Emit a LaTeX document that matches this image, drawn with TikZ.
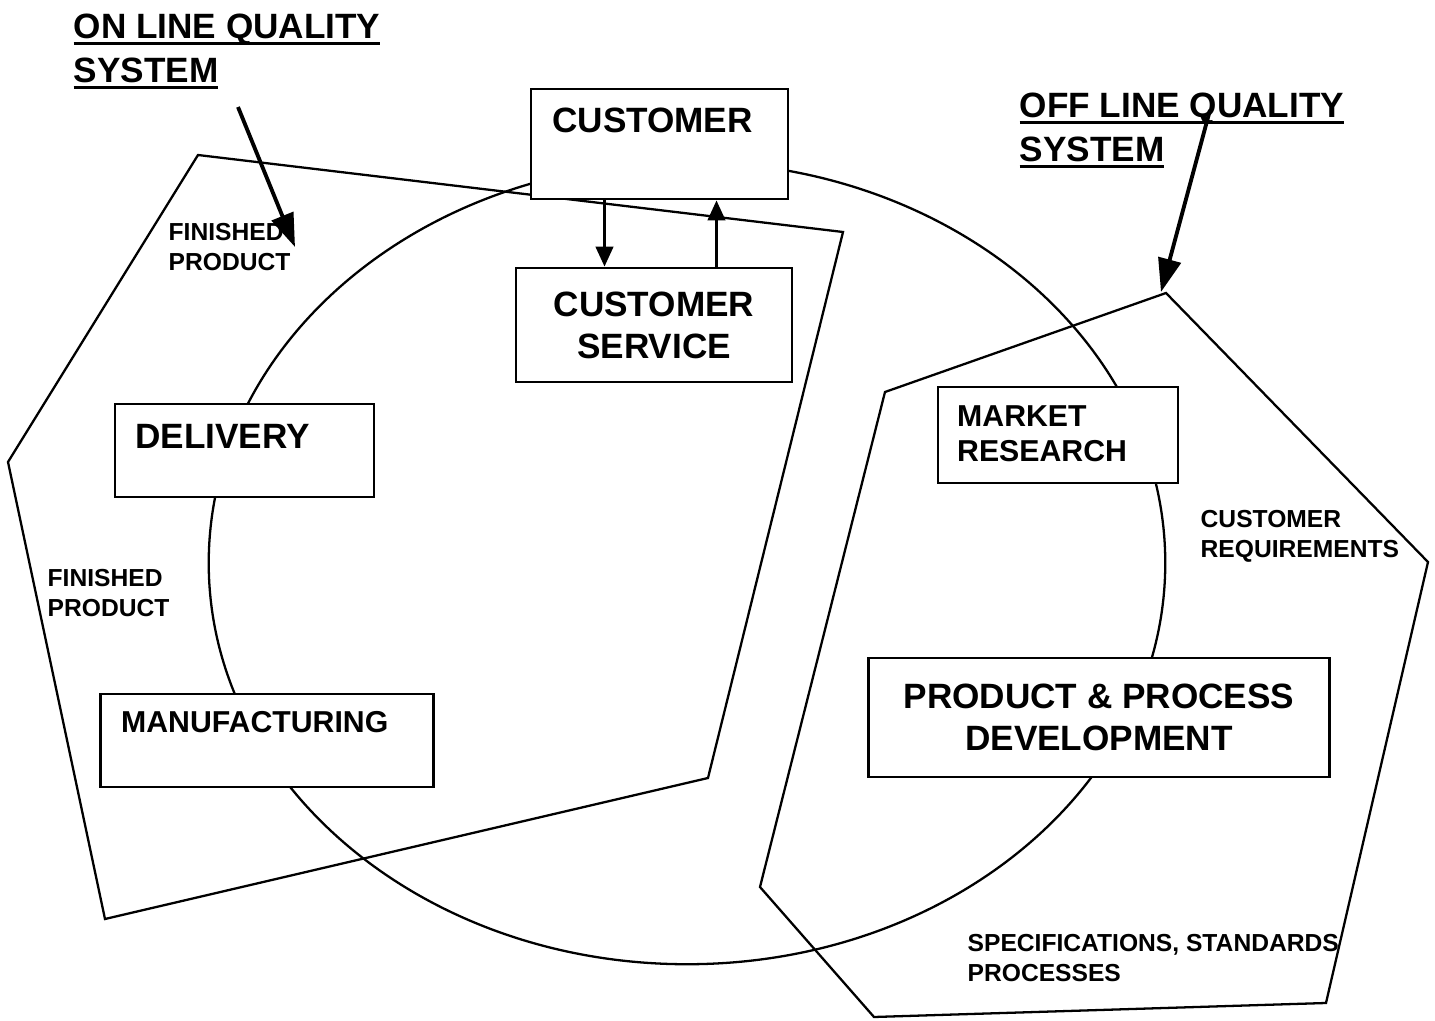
\documentclass[tikz,border=0pt]{standalone}
\usepackage{fontspec}
\setmainfont{Liberation Sans}
\usetikzlibrary{calc,positioning,arrows.meta}

% heading text with a heavy underline
\newsavebox{\ulheadbox}
\newcommand{\ulhead}[1]{\leavevmode\sbox{\ulheadbox}{#1}\dp\ulheadbox=0pt%
	\vtop{\copy\ulheadbox\kern1.1pt\hrule height 0.9pt}}

\begin{document}
\begin{tikzpicture}[x=0.01cm, y=-0.01cm,
		stage/.style={draw, fill=white, line width=0.8pt, inner sep=0pt, align=center,
			font=\bfseries\fontsize{10}{12}\selectfont},
		bigtext/.style={font=\bfseries\fontsize{10}{12.5}\selectfont, inner sep=0pt, align=left},
		midtext/.style={font=\bfseries\fontsize{8.6}{10}\selectfont, inner sep=0pt, align=left},
		smalltext/.style={font=\bfseries\fontsize{7}{8.5}\selectfont, inner sep=0pt, align=left},
		ring/.style={line width=0.65pt},
		flow/.style={line width=0.8pt, -{Triangle[length=5.7pt, width=5pt]}},
		pointer/.style={line width=1.1pt, -{Triangle[length=9.5pt, width=6.5pt]}}]
	\useasboundingbox (0,0) rectangle (1435,1021);

	% quality loop
	\draw[ring] (687,563) ellipse [x radius=4.78cm, y radius=4.01cm];

	% on line / off line systems
	\draw[ring] (198,155) -- (843,232) -- (708,778) -- (105,919) -- (8,462) -- cycle;
	\draw[ring] (1166,293) -- (1428,562) -- (1326,1003) -- (874,1017) -- (760,887) -- (885,392) -- cycle;

	\node[stage, minimum width=2.57cm, minimum height=1.10cm] (customer) at (659.5,144) {};
	\node[stage, minimum width=2.76cm, minimum height=1.14cm] (service) at (654,325) {CUSTOMER\\SERVICE};
	\node[stage, minimum width=2.59cm, minimum height=0.93cm] (delivery) at (244.5,450.5) {};
	\node[stage, minimum width=3.32cm, minimum height=0.93cm] (manufacturing) at (267,740.5) {};
	\node[stage, minimum width=2.40cm, minimum height=0.96cm] (research) at (1058,435) {};
	\node[stage, minimum width=4.60cm, minimum height=1.19cm] (development) at (1099,717.5) {PRODUCT \& PROCESS\\DEVELOPMENT};

	\node[bigtext, anchor=north west] (customer-name) at ($(customer.north west)+(22,20)$) {CUSTOMER};
	\node[bigtext, anchor=north west] (delivery-name) at ($(delivery.north west)+(21,21)$) {DELIVERY};
	\node[midtext, anchor=north west] (manufacturing-name) at ($(manufacturing.north west)+(21,18)$) {MANUFACTURING};
	\node[midtext, anchor=north west] (research-name) at ($(research.north west)+(20,19)$) {MARKET\\RESEARCH};

	\path (customer.south) ++(-55,0) coordinate (order);
	\path (customer.south) ++(57,0) coordinate (feedback);
	\draw[flow] (order) -- (order |- service.north);
	\draw[flow] (feedback |- service.north) -- (feedback);

	\node[bigtext, anchor=north west] (online) at (73,13) {\ulhead{ON LINE QUALITY}\\\ulhead{SYSTEM}};
	\node[bigtext, anchor=north west] (offline) at (1019,92) {\ulhead{OFF LINE QUALITY}\\\ulhead{SYSTEM}};

	\node[smalltext, anchor=north west] (finished-top) at (168,223) {FINISHED\\PRODUCT};
	\node[smalltext, anchor=north west] (finished-left) at (47,569) {FINISHED\\PRODUCT};
	\node[smalltext, anchor=north west] (requirements) at (1200,510) {CUSTOMER\\REQUIREMENTS};
	\node[smalltext, anchor=north west] (specs) at (967,934) {SPECIFICATIONS, STANDARDS\\PROCESSES};

	\coordinate (online-from) at (238,107);
	\coordinate (online-to) at (295,247);
	\coordinate (offline-from) at (1210,110);
	\coordinate (offline-to) at (1161,292);
	\draw[pointer] (online-from) -- (online-to);
	\draw[pointer] (offline-from) -- (offline-to);
\end{tikzpicture}
\end{document}
